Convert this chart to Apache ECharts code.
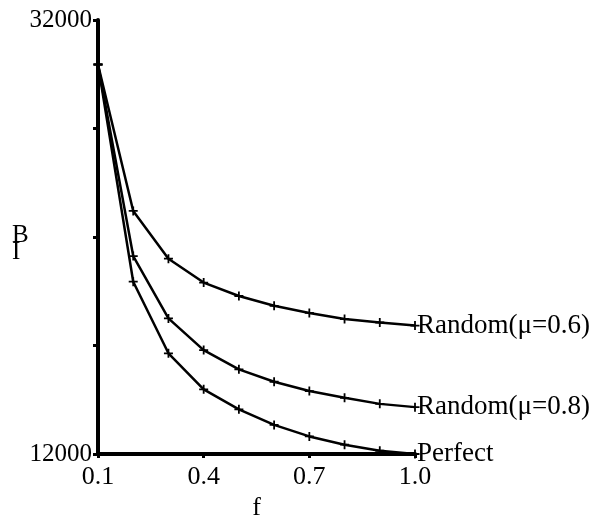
<!DOCTYPE html>
<html>
<head>
<meta charset="utf-8">
<script src="https://cdn.jsdelivr.net/npm/echarts@6/dist/echarts.min.js"></script>
<style>
  html, body { margin: 0; padding: 0; background: #fff; }
  #chart { width: 592px; height: 515px; }
</style>
</head>
<body>
<div id="chart"></div>
<script>
// fraction f on the x axis
var fValues = [0.1, 0.2, 0.3, 0.4, 0.5, 0.6, 0.7, 0.8, 0.9, 1.0];
var random06 = [29950, 23200, 21000, 19900, 19280, 18830, 18500, 18220, 18060, 17920];
var random08 = [29950, 21120, 18250, 16790, 15900, 15330, 14900, 14590, 14310, 14160];
var perfect = [29950, 19940, 16640, 14980, 14060, 13340, 12810, 12430, 12150, 12000];
var seriesNames = ["Random(\u03bc=0.6)", "Random(\u03bc=0.8)", "Perfect"];
var xTicks = [0.1, 0.4, 0.7, 1.0];
var yTicks = [12000, 17000, 22000, 27000, 32000];
var yLabels = [12000, 32000];

var serif = "Liberation Serif";
// little "+" marker
var plus = "path://M4,0H6V4H10V6H6V10H4V6H0V4H4Z";

function pairs(ys) {
  return fValues.map(function (x, i) { return [x, ys[i]]; });
}

function makeSeries(name, ys) {
  return {
    name: name,
    type: "line",
    data: pairs(ys),
    clip: false,
    symbol: plus,
    symbolSize: 9,
    lineStyle: { color: "#000", width: 2.5 },
    itemStyle: { color: "#000" },
    endLabel: {
      show: true,
      formatter: "{a}",
      color: "#000",
      fontFamily: serif,
      fontSize: 27,
      distance: 2
    },
    animation: false
  };
}

var myChart = echarts.init(document.getElementById("chart"));
myChart.setOption({
  backgroundColor: "#fff",
  animation: false,
  grid: { left: 98, right: 177, top: 20, bottom: 61, outerBoundsMode: "none", containLabel: false },
  // y axis title B over I
  graphic: [{
    type: "text",
    left: 12,
    top: 223,
    style: { text: "B\nI", fill: "#000", font: "25px " + serif, lineHeight: 17, align: "center" }
  }],
  xAxis: {
    type: "value",
    min: 0.1,
    max: 1.0,
    name: "f",
    nameLocation: "middle",
    nameGap: 28,
    nameTextStyle: { color: "#000", fontFamily: serif, fontSize: 26 },
    axisLine: { lineStyle: { color: "#000", width: 4 } },
    axisTick: { show: true, customValues: xTicks, length: 4, lineStyle: { color: "#000", width: 3 } },
    axisLabel: {
      customValues: xTicks,
      color: "#000",
      fontFamily: serif,
      fontSize: 26,
      margin: 10,
      formatter: function (v) { return v.toFixed(1); }
    },
    splitLine: { show: false }
  },
  yAxis: {
    type: "value",
    min: 12000,
    max: 32000,
    axisLine: { lineStyle: { color: "#000", width: 4 } },
    axisTick: { show: true, customValues: yTicks, length: 5, lineStyle: { color: "#000", width: 3 } },
    axisLabel: {
      customValues: yLabels,
      color: "#000",
      fontFamily: serif,
      fontSize: 25,
      margin: 6,
      formatter: function (v) { return String(v); }
    },
    splitLine: { show: false }
  },
  series: [
    makeSeries(seriesNames[0], random06),
    makeSeries(seriesNames[1], random08),
    makeSeries(seriesNames[2], perfect)
  ]
});
</script>
</body>
</html>
